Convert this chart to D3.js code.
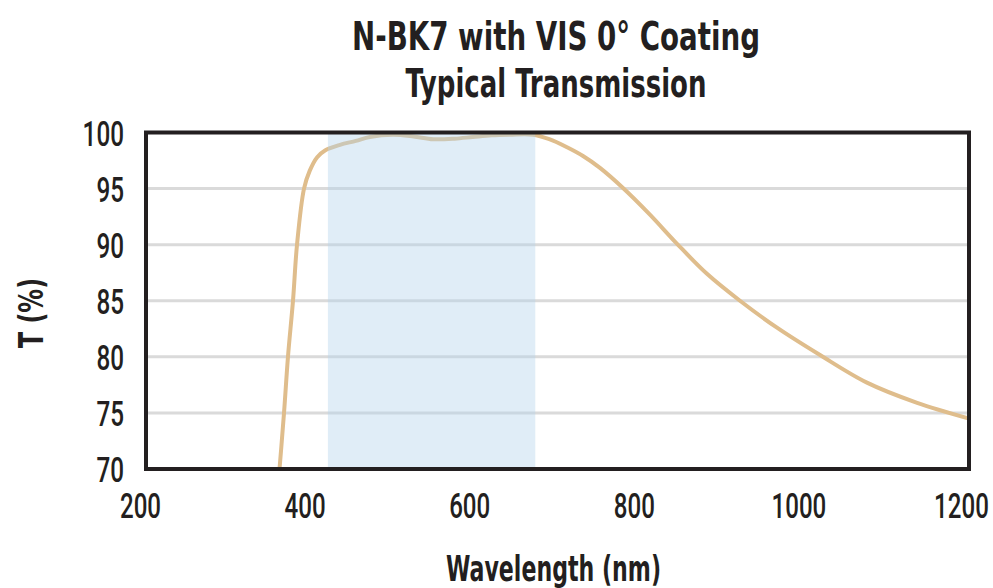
<!DOCTYPE html>
<html><head><meta charset="utf-8">
<script src="https://cdn.jsdelivr.net/npm/d3@7"></script>
<style>body{margin:0;background:#fff}svg{display:block}</style>
</head><body>
<svg id="c" width="993" height="588"></svg>
<script>
const wavelength = [360, 367.7, 372.5, 378.6, 383.5, 392, 399, 408, 417.5, 435.7, 455, 472, 500, 525, 549, 575, 597, 620, 642, 670, 690, 711, 731, 751.6, 779.6, 812, 845, 881.6, 921.7, 966.7, 1019, 1076, 1137, 1200];
const transmission = [68, 75, 80, 85, 90, 95, 96.6, 97.8, 98.4, 98.9, 99.25, 99.6, 99.8, 99.65, 99.4, 99.45, 99.6, 99.75, 99.8, 99.8, 99.4, 98.7, 97.9, 96.84, 95.05, 92.7, 90.1, 87.4, 85.0, 82.6, 80.16, 77.7, 75.9, 74.5];
const xTicks = [200, 400, 600, 800, 1000, 1200];
const yTicks = [70, 75, 80, 85, 90, 95, 100];
const band = [421, 673];
const titleLines = ["N-BK7 with VIS 0° Coating", "Typical Transmission"];
const xLabel = "Wavelength (nm)";
const yLabel = "T (%)";

const svg = d3.select("#c");
const L = 146, R = 969, T = 132.5, B = 469;
const x = d3.scaleLinear().domain([200, 1200]).range([L, R]);
const y = d3.scaleLinear().domain([70, 100]).range([B, T]);
const font = "'DejaVu Sans Condensed','DejaVu Sans',sans-serif";
const tickFont = "Roboto,'DejaVu Sans Condensed',sans-serif";

// gridlines
svg.append("g").selectAll("line").data(yTicks.filter(d => d > 70 && d < 100)).join("line")
  .attr("x1", L).attr("x2", R).attr("y1", d => y(d)).attr("y2", d => y(d))
  .attr("stroke", "#dadada").attr("stroke-width", 3);

// clip
svg.append("clipPath").attr("id", "clip").append("rect")
  .attr("x", L).attr("y", T).attr("width", R - L).attr("height", B - T);

const data = wavelength.map((w, i) => [w, transmission[i]]);
svg.append("path").datum(data)
  .attr("clip-path", "url(#clip)")
  .attr("fill", "none").attr("stroke", "#dfbd8c").attr("stroke-width", 4)
  .attr("stroke-linejoin", "round")
  .attr("d", d3.line().x(d => x(d[0])).y(d => y(d[1])).curve(d3.curveCatmullRom.alpha(0.5)));

// band
svg.append("rect").attr("x", x(band[0])).attr("y", T).attr("width", x(band[1]) - x(band[0])).attr("height", B - T)
  .attr("fill", "#b5d3ec").attr("fill-opacity", 0.42);

function squeeze(sel, dxFn, perChar) {
  sel.each(function(d) {
    const t = d3.select(this);
    const nat = this.getComputedTextLength();
    const s = (String(d).length * perChar) / nat;
    t.attr("transform", `translate(${dxFn(d)},0) scale(${s},1)`);
  });
}

// axes
const gx = svg.append("g").attr("transform", `translate(0,${B})`)
  .call(d3.axisBottom(x).tickValues(xTicks).tickSize(0).tickFormat(d3.format("d")));
gx.select(".domain").remove();
gx.selectAll("text")
  .attr("dy", null).attr("y", 49)
  .style("font-family", tickFont).style("font-weight", 500).style("font-size", "35px").style("fill", "#231f20")
  .call(squeeze, d => d === 1200 ? -8 : -6, 13.7);

const gy = svg.append("g").attr("transform", `translate(124,0)`)
  .call(d3.axisLeft(y).tickValues(yTicks).tickSize(0).tickFormat(d3.format("d")));
gy.select(".domain").remove();
gy.selectAll("text")
  .attr("x", 0).attr("dy", 12.5)
  .style("font-family", tickFont).style("font-weight", 500).style("font-size", "35px").style("fill", "#231f20")
  .call(squeeze, () => 0, 13.8);

// frame
svg.append("rect").attr("x", L).attr("y", T).attr("width", R - L).attr("height", B - T)
  .attr("fill", "none").attr("stroke", "#231f20").attr("stroke-width", 4);

// titles
const tl = [{t: titleLines[0], cx: 556, base: 50, w: 408}, {t: titleLines[1], cx: 556, base: 97, w: 301}];
svg.append("g").selectAll("text").data(tl).join("text")
  .attr("x", d => d.cx - d.w / 2).attr("y", d => d.base)
  .attr("textLength", d => d.w).attr("lengthAdjust", "spacingAndGlyphs")
  .style("font-family", font).style("font-weight", "bold").style("font-size", "39px").style("fill", "#231f20")
  .text(d => d.t);

svg.append("text").attr("x", 446).attr("y", 581)
  .attr("textLength", 215).attr("lengthAdjust", "spacingAndGlyphs")
  .style("font-family", font).style("font-weight", "bold").style("font-size", "35px").style("fill", "#231f20")
  .text(xLabel);

svg.append("text").attr("transform", "translate(43,348) rotate(-90)")
  .attr("x", 0).attr("y", 0)
  .attr("textLength", 70).attr("lengthAdjust", "spacingAndGlyphs")
  .style("font-family", font).style("font-weight", "bold").style("font-size", "34px").style("fill", "#231f20")
  .text(yLabel);
</script>
</body></html>
